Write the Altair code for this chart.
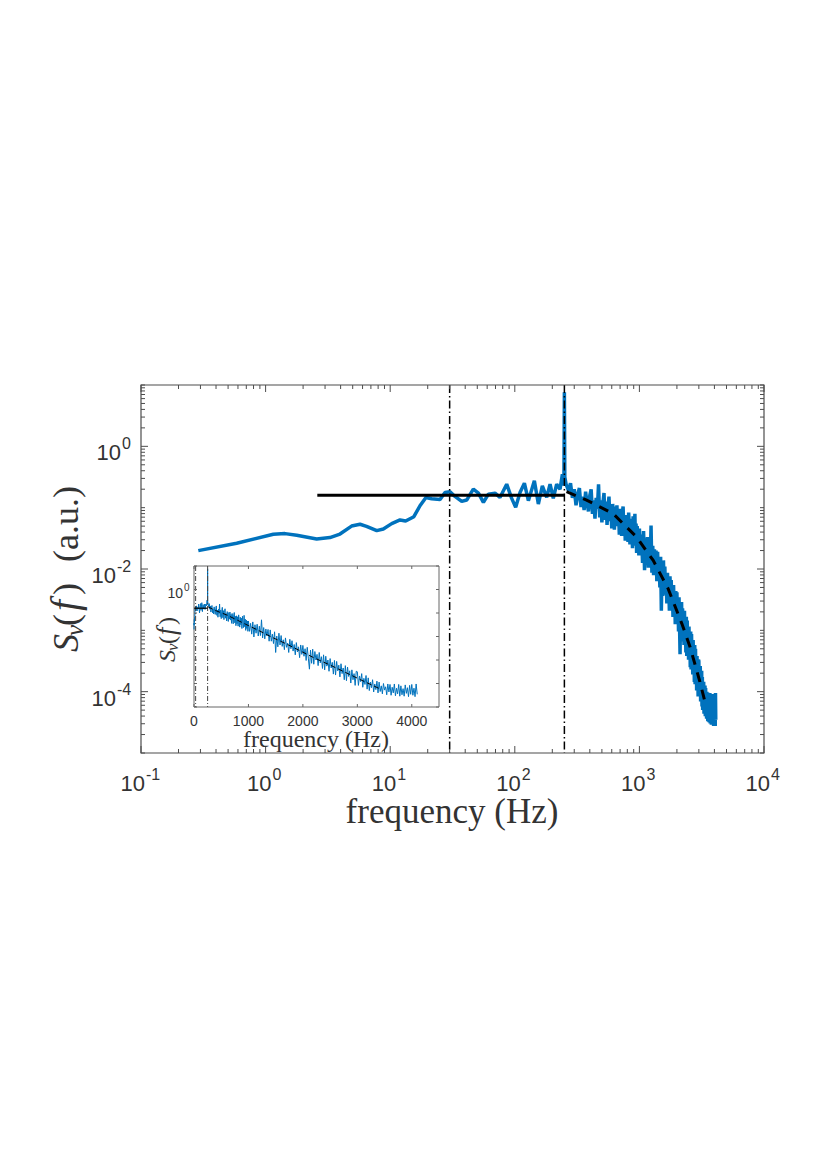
"""Velocity spectrum on log-log axes with a semilog inset."""

import altair as alt
import pandas as pd

BLUE = "#0072BD"
FRAME = "#4d4d4d"
TEXT = "#333333"
SANS = "Liberation Sans"
SERIF = "Liberation Serif"

# smooth low frequency part, read as log10 values
low_logf = [-0.54, -0.232, 0.062, 0.156, 0.25, 0.41, 0.516, 0.597, 0.69, 0.758,
            0.81, 0.892, 0.945, 1.012, 1.079, 1.124, 1.19, 1.239, 1.287, 1.333,
            1.40, 1.44, 1.48, 1.52, 1.574, 1.614, 1.667, 1.708, 1.748, 1.788,
            1.841, 1.881, 1.935, 1.975, 2.007, 2.042, 2.077, 2.109, 2.157, 2.189,
            2.221, 2.256, 2.283, 2.309, 2.336, 2.363, 2.382, 2.392]
low_logs = [-1.70, -1.58, -1.434, -1.423, -1.45, -1.51, -1.488, -1.43, -1.30, -1.27,
            -1.304, -1.375, -1.347, -1.26, -1.20, -1.218, -1.147, -0.969, -0.833, -0.855,
            -0.866, -0.752, -0.741, -0.817, -0.898, -0.876, -0.698, -0.763, -0.914, -0.779,
            -0.763, -0.833, -0.617, -0.849, -0.995, -0.752, -0.600, -0.887, -0.562, -0.941,
            -0.644, -0.833, -0.617, -0.849, -0.617, -0.698, -0.454, -0.64]

# the sharp peak
peak_f = [248, 250, 252, 258]
peak_logs = [-0.5, 0.88, -0.5, -0.62]

# noisy high frequency part, linear in Hz
noise_f = [270, 280, 290, 300, 310, 320, 330, 340, 350, 360, 370, 380, 390,
           400, 410, 420, 430, 440, 450, 460, 470, 480, 490, 500, 510, 520,
           530, 540, 550, 560, 570, 580, 590, 600, 610, 620, 630, 640, 650,
           660, 670, 680, 690, 700, 710, 720, 730, 740, 750, 760, 770, 780,
           790, 800, 810, 820, 830, 840, 850, 860, 870, 880, 890, 900, 910,
           920, 930, 940, 950, 960, 970, 980, 990,
           1000, 1020, 1040, 1060, 1080, 1100, 1120, 1140, 1160, 1180,
           1200, 1220, 1240, 1260, 1280, 1300, 1320, 1340, 1360, 1380,
           1400, 1420, 1440, 1460, 1480, 1500, 1520, 1540, 1560, 1580,
           1600, 1620, 1640, 1660, 1680, 1700, 1720, 1740, 1760, 1780,
           1800, 1820, 1840, 1860, 1880, 1900, 1920, 1940, 1960, 1980,
           2000, 2020, 2040, 2060, 2080, 2100, 2120, 2140, 2160, 2180,
           2200, 2220, 2240, 2260, 2280, 2300, 2320, 2340, 2360, 2380,
           2400, 2420, 2440, 2460, 2480, 2500, 2520, 2540, 2560, 2580,
           2600, 2620, 2640, 2660, 2680, 2700, 2720, 2740, 2760, 2780,
           2800, 2820, 2840, 2860, 2880, 2900, 2920, 2940, 2960, 2980,
           3000, 3020, 3040, 3060, 3080, 3100, 3120, 3140, 3160, 3180,
           3200, 3220, 3240, 3260, 3280, 3300, 3320, 3340, 3360, 3380,
           3400, 3420, 3440, 3460, 3480, 3500, 3520, 3540, 3560, 3580,
           3600, 3620, 3640, 3660, 3680, 3700, 3720, 3740, 3760, 3780,
           3800, 3820, 3840, 3860, 3880, 3900, 3920, 3940, 3960, 3980,
           4000, 4020, 4040, 4060, 4080, 4100]
noise_logs = [-0.72, -0.60, -0.84, -0.70, -0.96, -0.78, -0.68, -0.99, -0.82, -1.04, -0.74, -0.92, -1.06,
              -0.80, -0.70, -1.10, -0.88, -1.18, -0.84, -1.02, -0.62, -1.16, -0.88, -1.24, -0.92, -0.76,
              -1.20, -0.90, -1.28, -0.98, -0.82, -1.22, -1.02, -1.34, -0.94, -1.16, -1.36, -0.98, -1.26,
              -0.96, -1.30, -1.06, -1.44, -1.02, -1.20, -1.46, -1.08, -0.98, -1.42, -1.14, -1.54, -1.12,
              -1.46, -1.16, -1.56, -1.08, -1.32, -1.60, -1.18, -1.50, -1.22, -1.66, -1.14, -1.40, -1.62,
              -1.10, -1.58, -1.26, -1.74, -1.30, -1.66, -1.34, -1.78,
              -1.34, -1.78, -1.44, -1.90, -1.38, -2.02, -1.50, -1.86, -1.48, -1.98,
              -1.56, -1.96, -1.29, -2.06, -1.62, -2.10, -1.68, -1.98, -1.70, -2.20,
              -1.72, -2.20, -1.90, -2.30, -1.80, -2.68, -1.98, -2.44, -1.86, -2.36,
              -1.96, -2.42, -2.14, -2.56, -2.06, -2.46, -2.28, -2.68, -2.12, -2.52,
              -2.18, -2.62, -2.34, -2.78, -2.26, -2.66, -2.44, -2.90, -2.36, -2.76,
              -2.38, -2.84, -2.52, -3.02, -2.46, -2.92, -3.39, -2.58, -3.14, -2.54,
              -3.18, -2.64, -3.00, -2.76, -3.24, -2.68, -3.12, -2.86, -3.36, -2.78,
              -3.42, -2.84, -3.26, -3.00, -3.48, -2.94, -3.34, -3.10, -3.60, -3.02,
              -3.64, -3.06, -3.46, -3.22, -3.72, -3.16, -3.58, -3.34, -3.84, -3.24,
              -3.88, -3.30, -3.70, -3.46, -3.98, -3.42, -3.84, -3.58, -4.08, -3.48,
              -3.50, -4.08, -3.68, -3.92, -3.58, -4.16, -3.78, -4.04, -3.66, -4.24,
              -3.76, -4.30, -3.94, -4.18, -3.84, -4.36, -4.02, -4.26, -3.90, -4.40,
              -3.94, -4.34, -4.10, -4.44, -4.00, -4.28, -4.14, -4.48, -4.02, -4.36,
              -4.04, -4.50, -4.16, -4.40, -4.02, -4.52, -4.20, -4.44, -4.04, -4.54,
              -4.10, -4.48, -4.22, -4.54, -4.06, -4.42, -4.18, -4.56, -4.08, -4.46,
              -4.04, -4.50, -4.20, -4.56, -4.02, -4.46]

# fitted lines
flat_f = [2.6, 250]
flat_s = [0.16, 0.16]
fit_f = [260, 377, 617, 950, 1290, 1420, 1700, 2190, 2550, 3060, 3390]
fit_logs = [-0.74, -0.877, -1.10, -1.48, -1.86, -2.02, -2.32, -2.89, -3.27, -3.84, -4.2]

vlines = [30, 250]

x_major = [0.1, 1, 10, 100, 1000, 10000]
x_exp = ["-1", "0", "1", "2", "3", "4"]
y_major = [1, 0.01, 0.0001]
y_exp = ["0", "-2", "-4"]
y_decades = [10, 0.1, 0.001, 0.00001]
inset_x_ticks = [0, 1000, 2000, 3000, 4000]
inset_y_ticks = [10, 1, 0.1, 0.01, 0.001, 0.0001, 0.00001]

x_minor = [m * 10.0 ** e for e in range(-1, 4) for m in range(2, 10)]
y_minor = y_decades + [m * 10.0 ** e for e in range(-5, 1) for m in range(2, 10)]

W, H = 623, 368
INSET_L, INSET_R, INSET_T, INSET_B = 53, 298, 181, 322

spec = pd.DataFrame({
    "f": [10.0 ** v for v in low_logf] + peak_f + noise_f,
    "s": [10.0 ** v for v in low_logs + peak_logs + noise_logs],
})
flat = pd.DataFrame({"f": flat_f, "s": flat_s})
fit = pd.DataFrame({"f": fit_f, "s": [10.0 ** v for v in fit_logs]})
lines = pd.DataFrame({"f": vlines})

x_main = alt.Scale(type="log", domain=[0.1, 10000], range=[0, W])
y_main = alt.Scale(type="log", domain=[0.00001, 10], range=[H, 0])
x_in = alt.Scale(type="linear", domain=[0, 4500], range=[INSET_L, INSET_R])
y_in = alt.Scale(type="log", domain=[0.00001, 10], range=[INSET_B, INSET_T])


def frame(xs, ys, color, width):
    box = pd.DataFrame({"x0": [xs.domain[0]], "x1": [xs.domain[1]],
                        "y0": [ys.domain[0]], "y1": [ys.domain[1]]})
    return alt.Chart(box).mark_rect(filled=False, stroke=color, strokeWidth=width).encode(
        x=alt.X("x0:Q", scale=xs, axis=None), x2="x1:Q",
        y=alt.Y("y0:Q", scale=ys, axis=None), y2="y1:Q",
    )


def x_ticks(values, xs, y0, y1, color):
    data = pd.DataFrame({"f": values})
    return alt.Chart(data).mark_rule(color=color, strokeWidth=1).encode(
        x=alt.X("f:Q", scale=xs, axis=None), y=alt.value(y0), y2=alt.value(y1))


def y_ticks(values, ys, x0, x1, color):
    data = pd.DataFrame({"s": values})
    return alt.Chart(data).mark_rule(color=color, strokeWidth=1).encode(
        y=alt.Y("s:Q", scale=ys, axis=None), x=alt.value(x0), x2=alt.value(x1))


def x_label(value, exp):
    right = 6 if len(exp) == 1 else 4
    data = pd.DataFrame({"f": [value], "base": ["10"], "exp": [exp]})
    base = alt.Chart(data).mark_text(
        font=SANS, fontSize=22, color=TEXT, align="right", baseline="alphabetic", dx=right,
    ).encode(x=alt.X("f:Q", scale=x_main, axis=None), y=alt.value(406), text="base:N")
    sup = alt.Chart(data).mark_text(
        font=SANS, fontSize=16, color=TEXT, align="left", baseline="alphabetic", dx=right + 1,
    ).encode(x=alt.X("f:Q", scale=x_main, axis=None), y=alt.value(395), text="exp:N")
    return base + sup


def y_label(value, exp):
    right = -20 if len(exp) == 1 else -25
    data = pd.DataFrame({"s": [value], "base": ["10"], "exp": [exp]})
    base = alt.Chart(data).mark_text(
        font=SANS, fontSize=22, color=TEXT, align="right", baseline="alphabetic", dy=14,
    ).encode(y=alt.Y("s:Q", scale=y_main, axis=None), x=alt.value(right), text="base:N")
    sup = alt.Chart(data).mark_text(
        font=SANS, fontSize=16, color=TEXT, align="left", baseline="alphabetic", dy=3,
    ).encode(y=alt.Y("s:Q", scale=y_main, axis=None), x=alt.value(right + 1), text="exp:N")
    return base + sup


def label(text, x, y, size, font=SERIF, style="normal", angle=0, align="center"):
    data = pd.DataFrame({"t": [text]})
    return alt.Chart(data).mark_text(
        font=font, fontSize=size, fontStyle=style, color=TEXT, angle=angle,
        align=align, baseline="alphabetic",
    ).encode(x=alt.value(x), y=alt.value(y), text="t:N")


def sv_title(x, y, size, steps):
    # rotated S_v(f), one piece at a time so the symbols can be italic
    s_step, v_step, open_step, f_step = steps
    pieces = [
        label("S", x, y, size, style="italic", angle=270, align="left"),
        label("v", x + size * 0.13, y - s_step, size * 0.7, style="italic", angle=270, align="left"),
        label("(", x, y - s_step - v_step, size, angle=270, align="left"),
        label("f", x, y - s_step - v_step - open_step, size * 1.1, style="italic", angle=270, align="left"),
        label(")", x, y - s_step - v_step - open_step - f_step, size, angle=270, align="left"),
    ]
    return pieces


# main panel
main_curve = alt.Chart(spec).mark_line(color=BLUE, strokeWidth=3.5, strokeJoin="bevel").encode(
    x=alt.X("f:Q", scale=x_main, axis=None),
    y=alt.Y("s:Q", scale=y_main, axis=None),
    order=alt.Order("f:Q"),
)
main_flat = alt.Chart(flat).mark_line(color="black", strokeWidth=3).encode(
    x=alt.X("f:Q", scale=x_main, axis=None), y=alt.Y("s:Q", scale=y_main, axis=None))
main_fit = alt.Chart(fit).mark_line(color="black", strokeWidth=3, strokeDash=[10, 8]).encode(
    x=alt.X("f:Q", scale=x_main, axis=None), y=alt.Y("s:Q", scale=y_main, axis=None))
main_vlines = alt.Chart(lines).mark_rule(color="black", strokeWidth=1.5, strokeDash=[8, 3, 1.5, 3]).encode(
    x=alt.X("f:Q", scale=x_main, axis=None))

main_parts = [
    main_curve, main_vlines, main_flat, main_fit,
    frame(x_main, y_main, FRAME, 1.2),
    x_ticks(x_major, x_main, H, H - 7, FRAME), x_ticks(x_major, x_main, 0, 7, FRAME),
    x_ticks(x_minor, x_main, H, H - 4, FRAME), x_ticks(x_minor, x_main, 0, 4, FRAME),
    y_ticks(y_major, y_main, 0, 7, FRAME), y_ticks(y_major, y_main, W, W - 7, FRAME),
    y_ticks(y_minor, y_main, 0, 4, FRAME), y_ticks(y_minor, y_main, W, W - 4, FRAME),
]
main_parts += [x_label(v, e) for v, e in zip(x_major, x_exp)]
main_parts += [y_label(v, e) for v, e in zip(y_major, y_exp)]
main_parts += [label("frequency (Hz)", 311, 438, 35)]
main_parts += sv_title(-63, 267, 36, (16, 10, 15, 16))
main_parts += [label("(a.u.)", -63, 177, 36, angle=270, align="left")]
main_layer = alt.layer(*main_parts)

# inset panel
inset_curve = alt.Chart(spec).mark_line(color=BLUE, strokeWidth=1).encode(
    x=alt.X("f:Q", scale=x_in, axis=None),
    y=alt.Y("s:Q", scale=y_in, axis=None),
    order=alt.Order("f:Q"),
)
inset_flat = alt.Chart(flat).mark_line(color="black", strokeWidth=1.2).encode(
    x=alt.X("f:Q", scale=x_in, axis=None), y=alt.Y("s:Q", scale=y_in, axis=None))
inset_fit = alt.Chart(fit).mark_line(color="black", strokeWidth=1, strokeDash=[5, 3]).encode(
    x=alt.X("f:Q", scale=x_in, axis=None), y=alt.Y("s:Q", scale=y_in, axis=None))
inset_vlines = alt.Chart(lines).mark_rule(color="#444444", strokeWidth=1, strokeDash=[5, 2, 1, 2]).encode(
    x=alt.X("f:Q", scale=x_in, axis=None),
    y=alt.value(INSET_T), y2=alt.value(INSET_B),
)
inset_label = pd.DataFrame({"s": [1], "base": ["10"], "exp": ["0"]})
inset_base = alt.Chart(inset_label).mark_text(
    font=SANS, fontSize=14, color=TEXT, align="right", baseline="alphabetic", dy=8,
).encode(y=alt.Y("s:Q", scale=y_in, axis=None), x=alt.value(INSET_L - 11), text="base:N")
inset_sup = alt.Chart(inset_label).mark_text(
    font=SANS, fontSize=10, color=TEXT, align="left", baseline="alphabetic", dy=1,
).encode(y=alt.Y("s:Q", scale=y_in, axis=None), x=alt.value(INSET_L - 10), text="exp:N")
inset_tick_text = alt.Chart(pd.DataFrame({"f": inset_x_ticks})).mark_text(
    font=SANS, fontSize=14, color=TEXT, baseline="alphabetic",
).encode(x=alt.X("f:Q", scale=x_in, axis=None), y=alt.value(341), text=alt.Text("f:Q", format="d"))

inset_parts = [
    frame(x_in, y_in, "#666666", 1),
    inset_curve, inset_vlines, inset_flat, inset_fit,
    x_ticks(inset_x_ticks, x_in, INSET_T, INSET_T + 3, "#666666"),
    x_ticks(inset_x_ticks, x_in, INSET_B, INSET_B - 3, "#666666"),
    y_ticks(inset_y_ticks, y_in, INSET_L, INSET_L + 3, "#666666"),
    y_ticks(inset_y_ticks, y_in, INSET_R, INSET_R - 3, "#666666"),
    inset_base, inset_sup, inset_tick_text,
    label("frequency (Hz)", 175, 362, 24),
]
inset_parts += sv_title(34, 277, 24, (11, 7, 9, 10))
inset_layer = alt.layer(*inset_parts)

chart = (
    alt.layer(main_layer, inset_layer)
    .resolve_scale(x="independent", y="independent")
    .properties(
        width=W, height=H,
        autosize=alt.AutoSizeParams(type="none"),
        padding={"left": 133, "top": 377, "right": 50, "bottom": 100},
    )
    .configure_view(stroke=None)
)

chart.save("out.html", embed_options={"renderer": "svg", "actions": False})
